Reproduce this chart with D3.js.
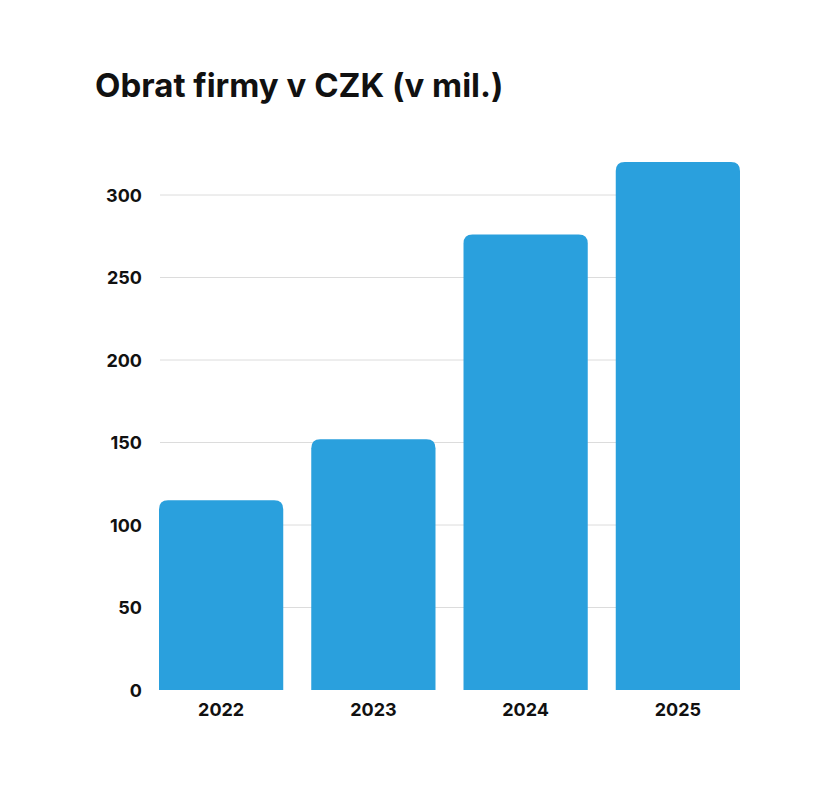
<!DOCTYPE html>
<html>
<head>
<meta charset="utf-8">
<script src="https://cdn.jsdelivr.net/npm/d3@7"></script>
<style>
body { margin: 0; background: #fff; }
text { font-family: Inter, "Noto Sans", sans-serif; }
</style>
</head>
<body>
<svg></svg>
<script>
const years = ["2022", "2023", "2024", "2025"];
const values = [115, 152, 276, 320];
const yTicks = [0, 50, 100, 150, 200, 250, 300];

const width = 839;
const height = 799;
let svg = d3.select("svg").attr("width", width).attr("height", height);

svg.append("text")
    .attr("x", 95)
    .attr("y", 97)
    .style("font-size", "33px")
    .style("font-weight", 700)
    .attr("fill", "#111")
    .text("Obrat firmy v CZK (v mil.)");

let scaleX = d3.scaleBand().domain(years).range([145, 754]).paddingInner(0.184).paddingOuter(0.092);
let scaleY = d3.scaleLinear().domain([0, 300]).range([690, 195]);

// mřížka
svg.append("g")
    .selectAll("line")
    .data(yTicks.filter((d) => d > 0))
    .enter()
    .append("line")
    .attr("x1", 160)
    .attr("x2", 740)
    .attr("y1", (d) => scaleY(d))
    .attr("y2", (d) => scaleY(d))
    .attr("stroke", "#dcdcdc")
    .attr("stroke-width", 1);

// sloupce se zaoblenými rohy nahoře
const r = 9;
svg.append("g")
    .selectAll("path")
    .data(values)
    .enter()
    .append("path")
    .attr("fill", "#2aa0dd")
    .attr("d", (d, i) => {
        let x0 = scaleX(years[i]);
        let x1 = x0 + scaleX.bandwidth();
        let y0 = scaleY(d);
        let yb = scaleY(0);
        return `M${x0},${yb} L${x0},${y0 + r} Q${x0},${y0} ${x0 + r},${y0} L${x1 - r},${y0} Q${x1},${y0} ${x1},${y0 + r} L${x1},${yb} Z`;
    });

let axisY = d3.axisLeft(scaleY).tickValues(yTicks).tickSize(0).tickPadding(0);
let gy = svg.append("g").attr("transform", "translate(142,0)").call(axisY);
gy.select(".domain").remove();
gy.selectAll("text")
    .style("font-size", "18px")
    .style("font-weight", 700)
    .attr("fill", "#111")
    .attr("dy", "0.35em");

let axisX = d3.axisBottom(scaleX).tickSize(0).tickPadding(0);
let gx = svg.append("g").attr("transform", "translate(0,703)").call(axisX);
gx.select(".domain").remove();
gx.selectAll("text")
    .style("font-size", "18px")
    .style("font-weight", 700)
    .attr("fill", "#111")
    .attr("dy", "0.71em");
</script>
</body>
</html>
